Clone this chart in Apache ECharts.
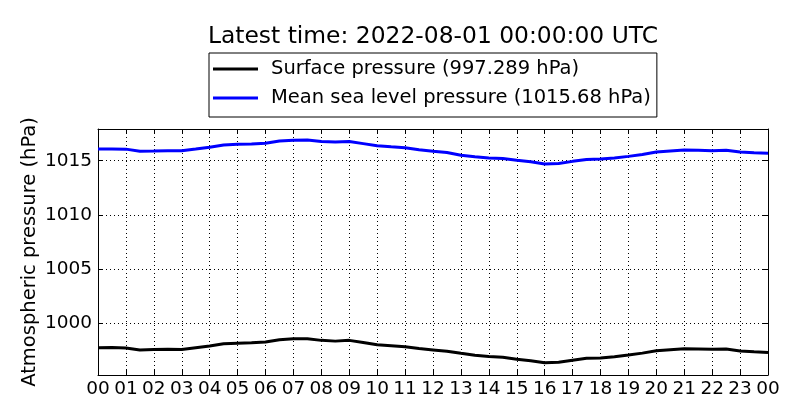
<!DOCTYPE html>
<html>
<head>
<meta charset="utf-8">
<script src="https://cdn.jsdelivr.net/npm/echarts@6/dist/echarts.min.js"></script>
<style>
  html, body { margin: 0; padding: 0; background: #fff; }
  #main { width: 800px; height: 420px; }
</style>
</head>
<body>
<div id="main"></div>
<script>
// hours since 00 UTC
const hours = [0, 0.5, 1, 1.5, 2, 2.5, 3, 3.5, 4, 4.5, 5, 5.5, 6, 6.5, 7, 7.5, 8, 8.5,
  9, 9.5, 10, 10.5, 11, 11.5, 12, 12.5, 13, 13.5, 14, 14.5, 15, 15.5, 16, 16.5,
  17, 17.5, 18, 18.5, 19, 19.5, 20, 20.5, 21, 21.5, 22, 22.5, 23, 23.5, 24];

const surface = [997.72, 997.73, 997.70, 997.52, 997.55, 997.58, 997.55, 997.72, 997.88,
  998.08, 998.14, 998.17, 998.24, 998.46, 998.54, 998.55, 998.40, 998.33, 998.40,
  998.20, 997.99, 997.90, 997.80, 997.64, 997.52, 997.40, 997.20, 997.02, 996.90,
  996.84, 996.66, 996.52, 996.34, 996.38, 996.56, 996.74, 996.78, 996.88, 997.04,
  997.22, 997.44, 997.54, 997.62, 997.60, 997.57, 997.60, 997.42, 997.35, 997.289];

const msl = [1016.08, 1016.09, 1016.07, 1015.88, 1015.90, 1015.93, 1015.92, 1016.08, 1016.25,
  1016.45, 1016.52, 1016.55, 1016.62, 1016.82, 1016.90, 1016.92, 1016.78, 1016.72, 1016.78,
  1016.58, 1016.38, 1016.28, 1016.20, 1016.02, 1015.88, 1015.75, 1015.50, 1015.36, 1015.26,
  1015.20, 1015.04, 1014.90, 1014.70, 1014.75, 1014.94, 1015.12, 1015.16, 1015.24, 1015.40,
  1015.58, 1015.80, 1015.90, 1015.99, 1015.97, 1015.93, 1015.96, 1015.80, 1015.73, 1015.68];

const yTicks = [1000, 1005, 1010, 1015];
const latestTime = '2022-08-01 00:00:00 UTC';

const font = 'DejaVu Sans';
const fs = 19.5;      // legend / axis name
const tickFs = 18.5;  // tick labels
const chart = echarts.init(document.getElementById('main'));

const pairs = (ys) => hours.map((h, i) => [h, ys[i]]);
const hourLabel = (v) => String(Math.round(v) % 24).padStart(2, '0');

const tickStyle = { inside: true, length: 5, lineStyle: { color: '#000', width: 1 } };
const dotted = { show: true, lineStyle: { color: '#000', type: [1, 3], width: 1 } };
const frameLine = { show: true, onZero: false, lineStyle: { color: '#000', width: 1 } };

chart.setOption({
  animation: false,
  backgroundColor: '#fff',
  textStyle: { fontFamily: font },
  title: {
    text: 'Latest time: ' + latestTime,
    left: 428, textAlign: 'center', top: 20,
    textStyle: { fontFamily: font, fontSize: 23.4, fontWeight: 'normal', color: '#000' }
  },
  legend: {
    orient: 'vertical',
    left: 209, top: 53,
    padding: [5, 6, 8, 4],
    itemGap: 7,
    itemWidth: 45,
    itemHeight: 3,
    icon: 'rect',
    borderColor: '#000',
    borderWidth: 1,
    borderRadius: 0,
    textStyle: { fontFamily: font, fontSize: fs, lineHeight: 22, color: '#000', padding: [0, 0, 0, 8] },
    formatter: (name) => {
      if (name === 'Surface pressure') return name + ' (' + surface[surface.length - 1] + ' hPa)';
      return name + ' (' + msl[msl.length - 1] + ' hPa)';
    },
    data: ['Surface pressure', 'Mean sea level pressure']
  },
  grid: { left: 98, right: 32, top: 129, bottom: 45 },
  xAxis: [{
    type: 'value', min: 0, max: 24, interval: 1,
    axisLine: frameLine,
    axisTick: tickStyle,
    axisLabel: { formatter: hourLabel, fontFamily: font, fontSize: tickFs, color: '#000', margin: 5 },
    splitLine: dotted
  }, {
    type: 'value', min: 0, max: 24, interval: 1, position: 'top',
    axisLine: frameLine,
    axisTick: tickStyle,
    axisLabel: { show: false },
    splitLine: { show: false }
  }],
  yAxis: [{
    type: 'value', min: 995.2, max: 1017.93,
    name: 'Atmospheric pressure (hPa)',
    nameLocation: 'middle', nameGap: 58, nameMoveOverlap: false,
    nameTextStyle: { fontFamily: font, fontSize: fs, color: '#000' },
    axisLine: frameLine,
    axisTick: Object.assign({ customValues: yTicks }, tickStyle),
    axisLabel: { customValues: yTicks, formatter: (v) => String(v), fontFamily: font, fontSize: tickFs, color: '#000', margin: 6 },
    splitLine: dotted
  }, {
    type: 'value', min: 995.2, max: 1017.93, position: 'right',
    axisLine: frameLine,
    axisTick: Object.assign({ customValues: yTicks }, tickStyle),
    axisLabel: { show: false },
    splitLine: { show: false }
  }],
  series: [{
    name: 'Surface pressure',
    type: 'line',
    xAxisIndex: 0, yAxisIndex: 0,
    showSymbol: false,
    color: '#000000',
    lineStyle: { width: 3, color: '#000000' },
    data: pairs(surface)
  }, {
    name: 'Mean sea level pressure',
    type: 'line',
    xAxisIndex: 0, yAxisIndex: 0,
    showSymbol: false,
    color: '#0000ff',
    lineStyle: { width: 3, color: '#0000ff' },
    data: pairs(msl)
  }]
});
</script>
</body>
</html>
